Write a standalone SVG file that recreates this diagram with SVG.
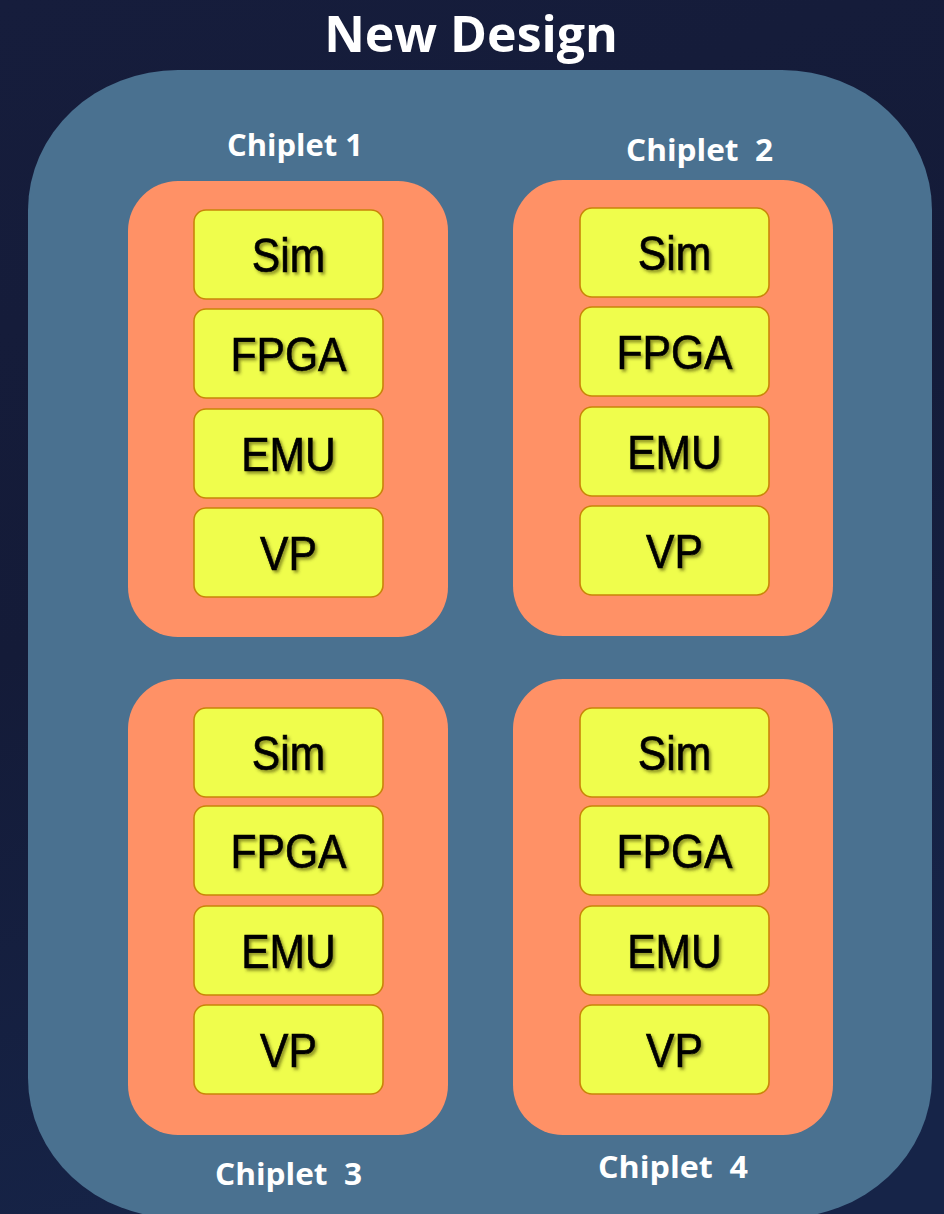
<svg xmlns="http://www.w3.org/2000/svg" width="944" height="1214" viewBox="0 0 944 1214">
  <style>
    .title { font-family: "Open Sans", "Liberation Sans", sans-serif; font-weight: 700; font-size: 50px; fill: #ffffff; }
    .chip-label { font-family: "Open Sans", "Liberation Sans", sans-serif; font-weight: 700; font-size: 30px; fill: #ffffff; }
    .die { fill: #4a7190; }
    .chiplet { fill: #ff9166; }
    .mod { fill: #effd4c; stroke: #c98408; stroke-width: 1.6; }
    .mod-text { font-family: "Liberation Sans", Arial, sans-serif; font-size: 49px; fill: #000000; stroke: #000000; stroke-width: 0.7; text-anchor: middle; filter: url(#shadow); }
  </style>
  <defs>
    <linearGradient id="bg" x1="0" y1="0" x2="0.3" y2="1">
      <stop offset="0" stop-color="#161d3c"/>
      <stop offset="0.5" stop-color="#141b38"/>
      <stop offset="1" stop-color="#162448"/>
    </linearGradient>
    <filter id="shadow" x="-10%" y="-20%" width="130%" height="150%">
      <feDropShadow dx="2.5" dy="2.5" stdDeviation="1.6" flood-color="#3a3a00" flood-opacity="0.55"/>
    </filter>
  </defs>

  <!-- backdrop -->
  <rect x="0" y="0" width="944" height="1214" fill="url(#bg)"/>

  <!-- heading -->
  <text class="title" x="471" y="52" text-anchor="middle">New Design</text>

  <!-- outer design boundary -->
  <g id="design">
    <rect class="die" x="28" y="70" width="904" height="1148" rx="150" ry="140"/>
  </g>

  <!-- chiplet captions -->
  <text class="chip-label" x="227" y="156" textLength="136" lengthAdjust="spacingAndGlyphs">Chiplet 1</text>
  <text class="chip-label" x="626" y="161" textLength="147" lengthAdjust="spacingAndGlyphs" xml:space="preserve">Chiplet  2</text>
  <text class="chip-label" x="215" y="1185" textLength="147" lengthAdjust="spacingAndGlyphs" xml:space="preserve">Chiplet  3</text>
  <text class="chip-label" x="598" y="1178" textLength="150" lengthAdjust="spacingAndGlyphs" xml:space="preserve">Chiplet  4</text>

  <!-- Chiplet 1 -->
  <g id="chiplet1">
    <rect class="chiplet" x="128" y="181" width="320" height="456" rx="50"/>
    <g id="c1-sim"><rect class="mod" x="194" y="210" width="189" height="89" rx="12"/><text class="mod-text" transform="translate(288.5 272) scale(0.87 1)">Sim</text></g>
    <g id="c1-fpga"><rect class="mod" x="194" y="309" width="189" height="89" rx="12"/><text class="mod-text" transform="translate(288.5 371) scale(0.87 1)">FPGA</text></g>
    <g id="c1-emu"><rect class="mod" x="194" y="409" width="189" height="89" rx="12"/><text class="mod-text" transform="translate(288.5 471) scale(0.87 1)">EMU</text></g>
    <g id="c1-vp"><rect class="mod" x="194" y="508" width="189" height="89" rx="12"/><text class="mod-text" transform="translate(288.5 570) scale(0.87 1)">VP</text></g>
  </g>

  <!-- Chiplet 2 -->
  <g id="chiplet2">
    <rect class="chiplet" x="513" y="180" width="320" height="456" rx="50"/>
    <g id="c2-sim"><rect class="mod" x="580" y="208" width="189" height="89" rx="12"/><text class="mod-text" transform="translate(674.5 270) scale(0.87 1)">Sim</text></g>
    <g id="c2-fpga"><rect class="mod" x="580" y="307" width="189" height="89" rx="12"/><text class="mod-text" transform="translate(674.5 369) scale(0.87 1)">FPGA</text></g>
    <g id="c2-emu"><rect class="mod" x="580" y="407" width="189" height="89" rx="12"/><text class="mod-text" transform="translate(674.5 469) scale(0.87 1)">EMU</text></g>
    <g id="c2-vp"><rect class="mod" x="580" y="506" width="189" height="89" rx="12"/><text class="mod-text" transform="translate(674.5 568) scale(0.87 1)">VP</text></g>
  </g>

  <!-- Chiplet 3 -->
  <g id="chiplet3">
    <rect class="chiplet" x="128" y="679" width="320" height="456" rx="50"/>
    <g id="c3-sim"><rect class="mod" x="194" y="708" width="189" height="89" rx="12"/><text class="mod-text" transform="translate(288.5 770) scale(0.87 1)">Sim</text></g>
    <g id="c3-fpga"><rect class="mod" x="194" y="806" width="189" height="89" rx="12"/><text class="mod-text" transform="translate(288.5 868) scale(0.87 1)">FPGA</text></g>
    <g id="c3-emu"><rect class="mod" x="194" y="906" width="189" height="89" rx="12"/><text class="mod-text" transform="translate(288.5 968) scale(0.87 1)">EMU</text></g>
    <g id="c3-vp"><rect class="mod" x="194" y="1005" width="189" height="89" rx="12"/><text class="mod-text" transform="translate(288.5 1067) scale(0.87 1)">VP</text></g>
  </g>

  <!-- Chiplet 4 -->
  <g id="chiplet4">
    <rect class="chiplet" x="513" y="679" width="320" height="456" rx="50"/>
    <g id="c4-sim"><rect class="mod" x="580" y="708" width="189" height="89" rx="12"/><text class="mod-text" transform="translate(674.5 770) scale(0.87 1)">Sim</text></g>
    <g id="c4-fpga"><rect class="mod" x="580" y="806" width="189" height="89" rx="12"/><text class="mod-text" transform="translate(674.5 868) scale(0.87 1)">FPGA</text></g>
    <g id="c4-emu"><rect class="mod" x="580" y="906" width="189" height="89" rx="12"/><text class="mod-text" transform="translate(674.5 968) scale(0.87 1)">EMU</text></g>
    <g id="c4-vp"><rect class="mod" x="580" y="1005" width="189" height="89" rx="12"/><text class="mod-text" transform="translate(674.5 1067) scale(0.87 1)">VP</text></g>
  </g>

  <!-- no connectors between blocks -->
  <g id="connectors"/>
</svg>
